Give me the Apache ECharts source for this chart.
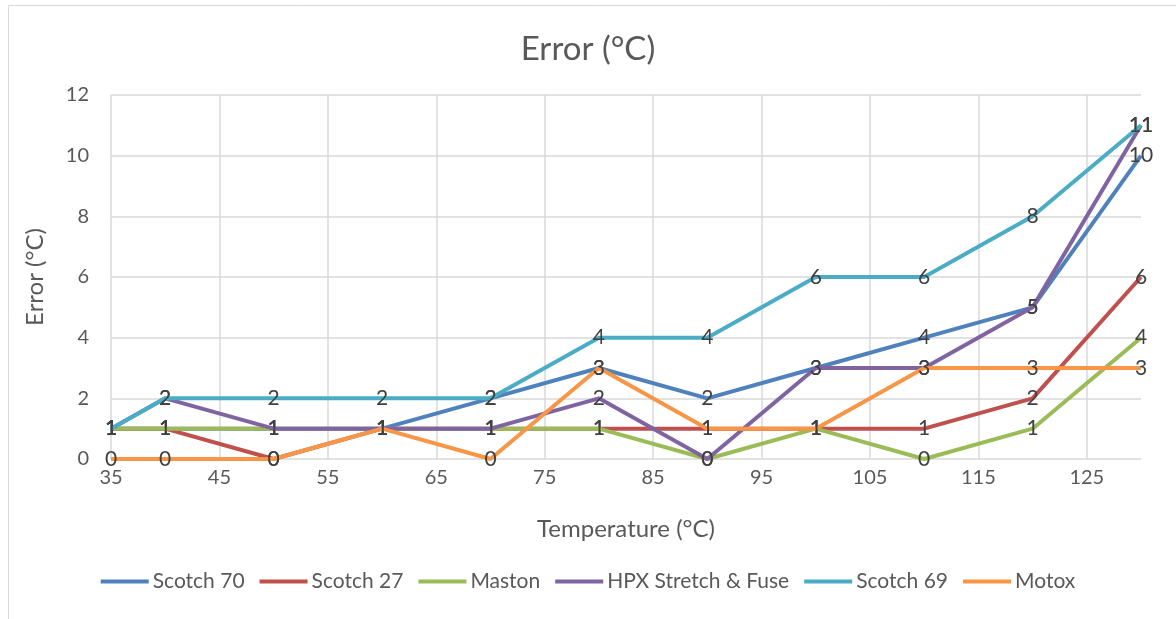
<!DOCTYPE html>
<html>
<head>
<meta charset="utf-8">
<script src="https://cdn.jsdelivr.net/npm/echarts@6/dist/echarts.min.js"></script>
<style>
  html, body { margin: 0; padding: 0; background: #fff; }
  #chart { width: 1176px; height: 619px; }
</style>
</head>
<body>
<div id="chart"></div>
<script>
// temperatures (°C)
var temps = [35, 40, 50, 60, 70, 80, 90, 100, 110, 120, 130];

var scotch70 = [1, 1, 1, 1, 2, 3, 2, 3, 4, 5, 10];
var scotch27 = [1, 1, 0, 1, 1, 1, 1, 1, 1, 2, 6];
var maston = [1, 1, 1, 1, 1, 1, 0, 1, 0, 1, 4];
var hpx = [1, 2, 1, 1, 1, 2, 0, 3, 3, 5, 11];
var scotch69 = [1, 2, 2, 2, 2, 4, 4, 6, 6, 8, 11];
var motox = [0, 0, 0, 1, 0, 3, 1, 1, 3, 3, 3];

var seriesNames = ['Scotch 70', 'Scotch 27', 'Maston', 'HPX Stretch & Fuse', 'Scotch 69', 'Motox'];
var seriesColors = ['#4F81BD', '#C0504D', '#9BBB59', '#8064A2', '#4BACC6', '#F79646'];
var seriesValues = [scotch70, scotch27, maston, hpx, scotch69, motox];

var font = 'Lato, "Open Sans", sans-serif';
var textColor = '#595959';

function pairs(vals) {
  var out = [];
  vals.forEach(function (v, i) {
    out.push([temps[i], v]);
  });
  return out;
}

var series = seriesNames.map(function (name, i) {
  return {
    name: name,
    type: 'line',
    data: pairs(seriesValues[i]),
    symbol: 'circle',
    symbolSize: 0,
    showSymbol: true,
    color: seriesColors[i],
    lineStyle: { width: 4, color: seriesColors[i] },
    label: {
      show: true,
      position: 'inside',
      color: '#404040',
      fontSize: 21,
      fontFamily: font,
      formatter: function (p) { return p.value[1]; }
    },
    emphasis: { disabled: true },
    z: 2 + i
  };
});

var chart = echarts.init(document.getElementById('chart'));
chart.setOption({
  animation: false,
  backgroundColor: '#fff',
  title: {
    text: 'Error (°C)',
    left: 'center',
    top: 28,
    textStyle: { fontFamily: font, fontSize: 33, fontWeight: 'normal', color: textColor }
  },
  graphic: [{
    type: 'rect',
    shape: { x: 8.5, y: 5.5, width: 1200, height: 700 },
    style: { fill: 'none', stroke: '#d9d9d9', lineWidth: 1 },
    silent: true
  }],
  legend: {
    bottom: 22,
    left: 'center',
    itemWidth: 48,
    itemHeight: 4,
    itemGap: 15,
    icon: 'rect',
    textStyle: { fontFamily: font, fontSize: 21, color: textColor, padding: [0, 0, 0, -1] },
    data: seriesNames
  },
  grid: { left: 111, right: 35, top: 95, bottom: 160 },
  xAxis: {
    type: 'value',
    min: 35,
    max: 130,
    interval: 10,
    name: 'Temperature (°C)',
    nameLocation: 'middle',
    nameGap: 58,
    nameTextStyle: { fontFamily: font, fontSize: 24, color: textColor },
    axisLine: { show: false },
    axisTick: { show: false },
    axisLabel: {
      fontFamily: font, fontSize: 20, color: textColor, margin: 9,
      formatter: function (v) { return v === 130 ? '' : v; }
    },
    splitLine: { show: true, showMaxLine: false, lineStyle: { color: '#d9d9d9', width: 1.5 } }
  },
  yAxis: {
    type: 'value',
    min: 0,
    max: 12,
    interval: 2,
    name: 'Error (°C)',
    nameLocation: 'middle',
    nameGap: 64,
    nameTextStyle: { fontFamily: font, fontSize: 24, color: textColor },
    axisLine: { show: false },
    axisTick: { show: false },
    axisLabel: { fontFamily: font, fontSize: 20, color: textColor, margin: 22 },
    splitLine: { show: true, lineStyle: { color: '#d9d9d9', width: 1.5 } }
  },
  series: series
});
</script>
</body>
</html>
